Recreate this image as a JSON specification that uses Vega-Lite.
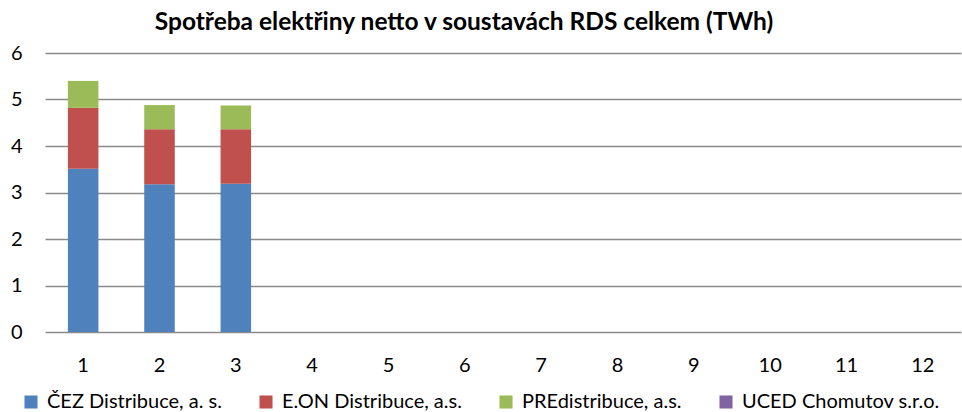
{
  "$schema": "https://vega.github.io/schema/vega-lite/v6.json",
  "width": 916,
  "height": 279,
  "autosize": {"type": "none"},
  "padding": {"left": 45, "right": 1, "top": 53, "bottom": 80},
  "background": "white",
  "title": {
    "text": "Spotřeba elektřiny netto v soustavách RDS celkem (TWh)",
    "font": "Lato",
    "fontSize": 24.5,
    "fontWeight": "bold",
    "color": "#000000",
    "anchor": "middle",
    "dx": -39,
    "offset": 8
  },
  "data": {
    "values": [
      {"mesic": 1, "spol": "ČEZ Distribuce, a. s.", "poradi": 1, "v": 3.51},
      {"mesic": 1, "spol": "E.ON Distribuce, a.s.", "poradi": 2, "v": 1.31},
      {"mesic": 1, "spol": "PREdistribuce, a.s.", "poradi": 3, "v": 0.58},
      {"mesic": 1, "spol": "UCED Chomutov s.r.o.", "poradi": 4, "v": 0},
      {"mesic": 2, "spol": "ČEZ Distribuce, a. s.", "poradi": 1, "v": 3.18},
      {"mesic": 2, "spol": "E.ON Distribuce, a.s.", "poradi": 2, "v": 1.18},
      {"mesic": 2, "spol": "PREdistribuce, a.s.", "poradi": 3, "v": 0.52},
      {"mesic": 2, "spol": "UCED Chomutov s.r.o.", "poradi": 4, "v": 0},
      {"mesic": 3, "spol": "ČEZ Distribuce, a. s.", "poradi": 1, "v": 3.19},
      {"mesic": 3, "spol": "E.ON Distribuce, a.s.", "poradi": 2, "v": 1.17},
      {"mesic": 3, "spol": "PREdistribuce, a.s.", "poradi": 3, "v": 0.51},
      {"mesic": 3, "spol": "UCED Chomutov s.r.o.", "poradi": 4, "v": 0}
    ]
  },
  "mark": {"type": "bar"},
  "encoding": {
    "x": {
      "field": "mesic",
      "type": "ordinal",
      "title": null,
      "scale": {"domain": [1, 2, 3, 4, 5, 6, 7, 8, 9, 10, 11, 12], "paddingInner": 0.6, "paddingOuter": 0.3},
      "axis": {
        "labelAngle": 0,
        "labelFont": "Lato",
        "labelFontSize": 20,
        "labelColor": "#000000",
        "ticks": false,
        "domain": false,
        "labelPadding": 23
      }
    },
    "y": {
      "field": "v",
      "type": "quantitative",
      "stack": "zero",
      "title": null,
      "scale": {"domain": [0, 6], "nice": false},
      "axis": {
        "values": [0, 1, 2, 3, 4, 5, 6],
        "labelFont": "Lato",
        "labelFontSize": 20,
        "labelColor": "#000000",
        "ticks": false,
        "domain": false,
        "grid": true,
        "gridColor": "#8a8a8a",
        "gridWidth": 1.5,
        "labelPadding": 23
      }
    },
    "order": {"field": "poradi", "type": "quantitative", "sort": "ascending"},
    "color": {
      "field": "spol",
      "type": "nominal",
      "scale": {
        "domain": ["ČEZ Distribuce, a. s.", "E.ON Distribuce, a.s.", "PREdistribuce, a.s.", "UCED Chomutov s.r.o."],
        "range": ["#4F81BD", "#C0504D", "#9BBB59", "#8064A2"]
      },
      "legend": {
        "orient": "none",
        "legendX": -24,
        "legendY": 339,
        "direction": "horizontal",
        "title": null,
        "symbolType": "square",
        "symbolSize": 170,
        "symbolStrokeWidth": 0,
        "labelFont": "Lato",
        "labelFontSize": 20,
        "labelColor": "#000000",
        "labelLimit": 300,
        "labelOffset": 6,
        "columnPadding": 34
      }
    }
  },
  "config": {"view": {"stroke": null}}
}
